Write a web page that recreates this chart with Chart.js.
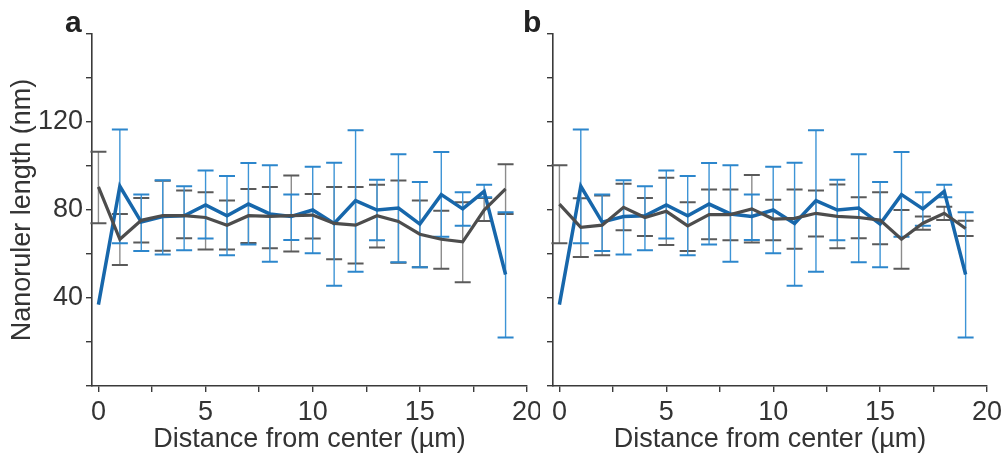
<!DOCTYPE html>
<html>
<head>
<meta charset="utf-8">
<script src="https://cdn.jsdelivr.net/npm/chart.js@4.4.1/dist/chart.umd.min.js"></script>
<style>
    html, body { margin: 0; padding: 0; background: #fff; }
    body { width: 1003px; height: 457px; position: relative; overflow: hidden; font-family: 'Liberation Sans', Arial, sans-serif; }
    .panel { position: absolute; top: 0; height: 457px; }
    #wrapA { left: 0; width: 540px; }
    #wrapB { left: 520px; width: 483px; }
    .letter { position: absolute; font-weight: bold; font-size: 30px; line-height: 30px; color: #222; }
</style>
</head>
<body>
<div class="panel" id="wrapA"><canvas id="chartA"></canvas></div>
<div class="panel" id="wrapB"><canvas id="chartB"></canvas></div>
<div class="letter" style="left:65px; top:7px;">a</div>
<div class="letter" style="left:523px; top:7px;">b</div>

<script>
// distance from center (µm)
const xVals = [0, 1, 2, 3, 4, 5, 6, 7, 8, 9, 10, 11, 12, 13, 14, 15, 16, 17, 18, 19];
const xTicks = [0, 2.5, 5, 7.5, 10, 12.5, 15, 17.5, 20];
const xLabels = [0, 5, 10, 15, 20];
const yTicks = [0, 20, 40, 60, 80, 100, 120, 140, 160];
const yLabels = [40, 80, 120];

// blue series (same in both panels)
const blueMean = [37, 90.8, 74.5, 77, 77.4, 82.3, 77.4, 82.7, 78.2, 77.1, 80, 73.9, 84.3, 80, 80.9, 73.6, 87, 80.5, 88.5, 50.7];
const blueHi = [null, 116.6, 87, 93.5, 90.8, 98, 95.4, 101.4, 100.3, 87, 99.7, 101.5, 116.2, 93.7, 105.3, 92.7, 106.4, 88.1, 91.5, 79];
const blueLo = [null, 64.9, 61.4, 59.8, 61.7, 67, 59.4, 64.3, 56.5, 66.4, 60.3, 45.6, 51.9, 66.3, 56.3, 54, 67.8, 72.8, 85.8, 22];

// gray series, panel a
const grayMeanA = [90.5, 66.7, 75.3, 77.5, 77.4, 76.6, 73.1, 77.4, 77.1, 77.4, 77.7, 73.9, 73.1, 77.4, 74.8, 69, 66.7, 65.5, 80, 89.6];
const grayHiA = [106.5, 78.2, 85.5, 93.3, 88.9, 88.1, 84.3, 89.6, 90.4, 95.7, 87.3, 90.4, 90.4, 91.5, 93.4, 84.3, 79.7, 83.5, 85.5, 100.8];
const grayLoA = [74, 55, 65.2, 61.5, 67.2, 62.1, 62.1, 65, 62.6, 61.1, 67, 57.6, 55.7, 62.9, 56, 54, 53.3, 47.2, 75, 78.2];

// gray series, panel b
const grayMeanB = [82.7, 72.1, 73.1, 81.2, 76.6, 79.4, 72.8, 77.9, 77.9, 80.5, 75.9, 76.2, 78.5, 77.1, 76.6, 75.4, 66.7, 74, 78.5, 71.6];
const grayHiB = [100.3, 85.3, 86.6, 91.9, 85.5, 94.7, 83.5, 89.3, 89.3, 95.9, 84.7, 89.3, 88.9, 91.6, 85.8, 88.1, 80, 77, 81.5, 75.1];
const grayLoB = [64.9, 58.6, 59.4, 70.8, 68.2, 64.1, 61.4, 66.7, 66.3, 65.2, 66.3, 62.4, 67.9, 62.6, 67.2, 64.4, 53.3, 71, 75.5, 68.2];

const FONT = "'Liberation Sans', Arial, sans-serif";
const FONT_SIZE = 27;
const AXIS = '#3a3a3a';
const GRAY_LINE = '#4d4d4d';
const GRAY_STEM = '#8c8c8c';
const GRAY_CAP = '#5a5a5a';
const BLUE_LINE = '#1767ab';
const BLUE_STEM = '#3d94d6';
const BLUE_CAP = '#2c86cc';

const toPoints = (ys) => ys.map((y, i) => ({ x: xVals[i], y }));

// error bars drawn under the lines, through the chart scales
function makeErrorBars(sets) {
    return {
        id: 'errorBars',
        beforeDatasetsDraw(chart) {
            const { ctx, scales: { x, y } } = chart;
            sets.forEach(s => {
                ctx.save();
                s.hi.forEach((hi, i) => {
                    const lo = s.lo[i];
                    if (hi == null || lo == null) return;
                    const px = x.getPixelForValue(xVals[i]);
                    const pHi = y.getPixelForValue(hi);
                    const pLo = y.getPixelForValue(lo);
                    ctx.strokeStyle = s.stem;
                    ctx.lineWidth = 1.4;
                    ctx.beginPath();
                    ctx.moveTo(px, pHi);
                    ctx.lineTo(px, pLo);
                    ctx.stroke();
                    ctx.strokeStyle = s.cap;
                    ctx.lineWidth = 2;
                    ctx.beginPath();
                    ctx.moveTo(px - 8, pHi); ctx.lineTo(px + 8, pHi);
                    ctx.moveTo(px - 8, pLo); ctx.lineTo(px + 8, pLo);
                    ctx.stroke();
                });
                ctx.restore();
            });
        }
    };
}

function makePanel(canvasId, grayMean, grayHi, grayLo, showY) {
    const el = document.getElementById(canvasId);
    const yWidth = showY ? 92 : 33;
    const padRight = showY ? 13 : 16;
    return new Chart(el, {
        type: 'line',
        data: {
            datasets: [
                { label: 'gray', data: toPoints(grayMean), borderColor: GRAY_LINE, borderWidth: 3.2, pointRadius: 0, tension: 0 },
                { label: 'blue', data: toPoints(blueMean), borderColor: BLUE_LINE, borderWidth: 3.5, pointRadius: 0, tension: 0 }
            ]
        },
        options: {
            responsive: true,
            maintainAspectRatio: false,
            animation: false,
            layout: { padding: { top: 34, right: padRight, left: 0, bottom: 0 } },
            plugins: { legend: { display: false }, tooltip: { enabled: false } },
            scales: {
                x: {
                    type: 'linear',
                    min: -0.3,
                    max: 20,
                    afterBuildTicks: (scale) => { scale.ticks = xTicks.map(v => ({ value: v })); },
                    afterFit: (scale) => { scale.height = 71; scale.paddingLeft = 0; scale.paddingRight = 0; },
                    border: { display: true, color: AXIS, width: 1.6 },
                    grid: { drawOnChartArea: false, drawTicks: true, tickLength: 6, color: AXIS, lineWidth: 1.4 },
                    ticks: {
                        autoSkip: false,
                        maxRotation: 0,
                        padding: 4,
                        color: '#333',
                        font: { family: FONT, size: FONT_SIZE },
                        callback: (v) => xLabels.includes(v) ? String(v) : ''
                    },
                    title: {
                        display: true,
                        text: 'Distance from center (µm)',
                        color: '#333',
                        font: { family: FONT, size: FONT_SIZE },
                        padding: { top: 0, bottom: 1 }
                    }
                },
                y: {
                    type: 'linear',
                    min: 0,
                    max: 160,
                    afterBuildTicks: (scale) => { scale.ticks = yTicks.map(v => ({ value: v })); },
                    afterFit: (scale) => { scale.width = yWidth; scale.paddingTop = 0; scale.paddingBottom = 0; },
                    border: { display: true, color: AXIS, width: 1.6 },
                    grid: { drawOnChartArea: false, drawTicks: true, tickLength: 6, color: AXIS, lineWidth: 1.4 },
                    ticks: {
                        autoSkip: false,
                        padding: 3,
                        color: '#333',
                        font: { family: FONT, size: FONT_SIZE },
                        callback: (v) => (showY && yLabels.includes(v)) ? String(v) : ''
                    },
                    title: {
                        display: showY,
                        text: 'Nanoruler length (nm)',
                        color: '#333',
                        font: { family: FONT, size: FONT_SIZE },
                        padding: { top: 6, bottom: 0 }
                    }
                }
            }
        },
        plugins: [makeErrorBars([
            { hi: grayHi, lo: grayLo, stem: GRAY_STEM, cap: GRAY_CAP },
            { hi: blueHi, lo: blueLo, stem: BLUE_STEM, cap: BLUE_CAP }
        ])]
    });
}

makePanel('chartA', grayMeanA, grayHiA, grayLoA, true);
makePanel('chartB', grayMeanB, grayHiB, grayLoB, false);
</script>
</body>
</html>
